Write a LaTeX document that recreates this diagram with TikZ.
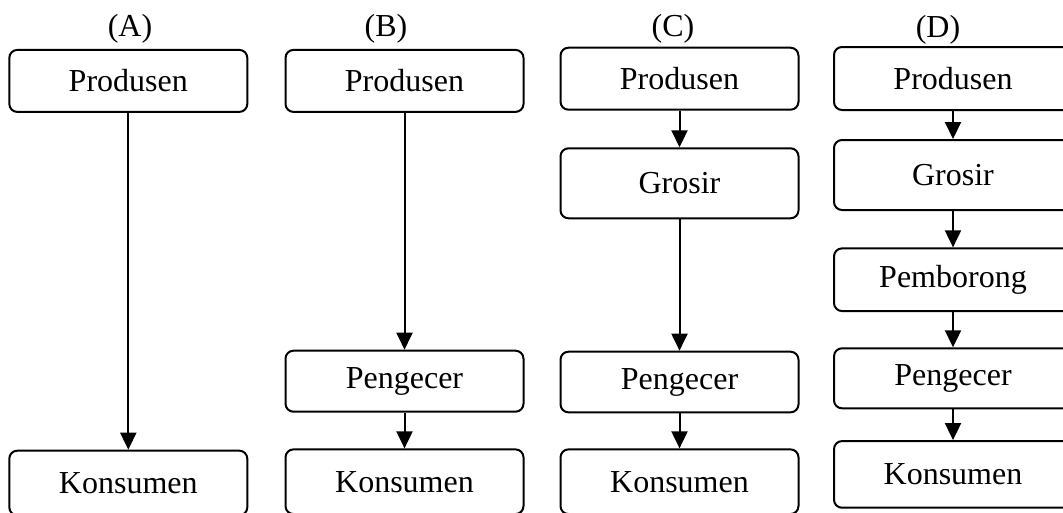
\documentclass[tikz,border=0pt]{standalone}
\usepackage{fontspec}
\setmainfont{Liberation Serif}
\usetikzlibrary{arrows.meta}

\begin{document}
\begin{tikzpicture}[
    x=0.75pt, y=-0.75pt,
    box/.style={draw, line width=1.5pt, rounded corners=6pt, inner sep=0pt,
        minimum width=178.5pt, minimum height=46.5pt, font=\fontsize{24}{28}\selectfont},
    tall/.style={minimum height=52.5pt},
    low/.style={minimum height=48.5pt},
    lbl/.style={font=\fontsize{24}{28}\selectfont, inner sep=0pt},
    arr/.style={-{Triangle[length=12.75pt, width=12pt]}, line width=1.5pt},
]
    \useasboundingbox (0,0) rectangle (1063,512);
    % Column A
    \node[lbl] (la) at (130, 29) {(A)};
    \node[box] (aprod) at (128.3, 80.9) {Produsen};
    \node[box, low] (akons) at (128.3, 483) {Konsumen};
    \draw[arr] (aprod.south) -- (akons.north);
    % Column B
    \node[lbl] (lb) at (386, 29) {(B)};
    \node[box] (bprod) at (404.5, 80.9) {Produsen};
    \node[box, minimum height=45.75pt] (bpeng) at (404.5, 381.2) {Pengecer};
    \node[box, low] (bkons) at (404.5, 481.7) {Konsumen};
    \draw[arr] (bprod.south) -- (bpeng.north);
    \draw[arr] (bpeng.south) -- (bkons.north);
    % Column C
    \node[lbl] (lc) at (673, 29) {(C)};
    \node[box] (cprod) at (679.5, 78.7) {Produsen};
    \node[box, tall] (cgros) at (679.5, 183.3) {Grosir};
    \node[box, minimum height=45.5pt] (cpeng) at (679.5, 382) {Pengecer};
    \node[box, low] (ckons) at (679.5, 481.7) {Konsumen};
    \draw[arr] (cprod.south) -- (cgros.north);
    \draw[arr] (cgros.south) -- (cpeng.north);
    \draw[arr] (cpeng.south) -- (ckons.north);
    % Column D
    \node[lbl] (ld) at (938, 29.5) {(D)};
    \node[box, minimum height=47.25pt] (dprod) at (953, 78.5) {Produsen};
    \node[box, tall] (dgros) at (953, 175) {Grosir};
    \node[box, minimum height=47pt] (dbor) at (953, 279.7) {Pemborong};
    \node[box, minimum height=45pt] (dpeng) at (953, 378.3) {Pengecer};
    \node[box, minimum height=50pt] (dkons) at (953, 474.4) {Konsumen};
    \draw[arr] (dprod.south) -- (dgros.north);
    \draw[arr] (dgros.south) -- (dbor.north);
    \draw[arr] (dbor.south) -- (dpeng.north);
    \draw[arr] (dpeng.south) -- (dkons.north);
\end{tikzpicture}
\end{document}
